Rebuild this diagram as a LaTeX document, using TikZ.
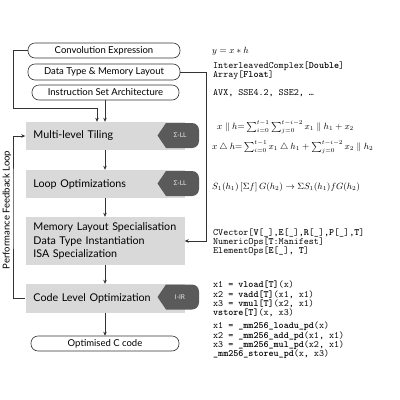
\documentclass[tikz,border=0pt]{standalone}
\usepackage{fontspec}
\usetikzlibrary{arrows.meta}
\newfontfamily\gill{Lato}
\setmonofont{lmmono10-regular.otf}[BoldFont=lmmonolt10-bold.otf]
\definecolor{boxgray}{HTML}{D9D9D9}
\definecolor{taggray}{HTML}{5A5A5A}
\definecolor{linegray}{HTML}{333333}
\newcommand\mb[1]{\textbf{#1}}
\newcommand\tagshape[1]{%
  \fill[taggray] (157.5,#1) -- (166,#1-12.5) [rounded corners=7pt] -- (199,#1-12.5) -- (199,#1+12.5) [sharp corners] -- (166,#1+12.5) -- cycle;}
\begin{document}
\begin{tikzpicture}[x=1pt,y=-1pt,
  stadium/.style={draw=linegray, line width=0.6pt, rounded corners=7pt, fill=white,
    font=\gill\fontsize{9.5}{11}\selectfont, inner sep=0pt},
  graybox/.style={fill=boxgray, minimum width=159pt, text width=143pt, inner xsep=8pt,
    inner ysep=0pt, align=left, font=\gill\fontsize{10.7}{13.6}\selectfont},
  taglabel/.style={text=white!92!black, font=\gill\fontsize{6.5}{7}\selectfont, inner sep=0pt},
  code/.style={anchor=west, align=left, inner sep=0pt, font=\ttfamily\fontsize{9.6}{9.2}\selectfont},
  mathtxt/.style={anchor=west, inner sep=0pt, font=\fontsize{9}{11}\selectfont},
  arr/.style={draw=linegray, line width=0.6pt, -{Stealth[length=4pt,width=3.5pt]}}]
\useasboundingbox (0,0) rectangle (400,400);

% input boxes
\node[stadium, minimum width=152pt, minimum height=15pt] (conv) at (104,50.5) {Convolution Expression};
\node[stadium, minimum width=152pt, minimum height=16pt] (data) at (104,72) {Data Type \& Memory Layout};
\node[stadium, minimum width=147pt, minimum height=15pt] (isa) at (105.5,92.5) {Instruction Set Architecture};

% stage boxes
\node[graybox, minimum height=28pt] (tiling) at (105,136) {Multi-level Tiling};
\node[graybox, minimum height=28pt] (loop) at (105,184) {Loop Optimizations};
\node[graybox, minimum height=48pt] (mem) at (105,241) {Memory Layout Specialisation\\Data Type Instantiation\\ISA Specialization};
\node[graybox, minimum height=29pt] (codeopt) at (105,298.5) {Code Level Optimization};
\node[stadium, minimum width=148pt, minimum height=15pt] (ccode) at (105,343.5) {Optimised C code};

% tags
\tagshape{135.5}
\tagshape{183.5}
\tagshape{297}
\node[taglabel] (tag1) at (180,135.5) {Σ-LL};
\node[taglabel] (tag2) at (180,183.5) {Σ-LL};
\node[taglabel] (tag3) at (180,297) {I-IR};

% feedback label
\node[rotate=90, inner sep=0pt, font=\gill\fontsize{9.5}{11}\selectfont] (fb) at (7,210) {Performance Feedback Loop};

% connectors
\coordinate (j1) at (13,108);
\coordinate (j2) at (206,241);
\coordinate (j3) at (13,200);
\draw[arr] (conv.west) -| (j1) -| ([xshift=-8pt]tiling.north);
\draw[arr] (isa.south -| tiling.north) -- (tiling.north);
\draw[arr] (data.east) -| (j2) -- (mem.east);
\draw[arr] (tiling.south) -- (loop.north);
\draw[arr] (loop.south) -- (mem.north);
\draw[arr] (mem.south) -- (codeopt.north);
\draw[arr] (codeopt.south) -- (ccode.north);
\draw[arr] (codeopt.west) -| (j3) |- (tiling.west);

% right column
\node[mathtxt] (m1) at (212,51) {$y = x * h$};
\node[code] (t1) at (213,71) {InterleavedComplex[\mb{Double}]\\Array[\mb{Float}]};
\node[code] (t2) at (213,93) {AVX, SSE4.2, SSE2, …};
\node[mathtxt] (m2) at (217,127.5) {$x \parallel h{=}\sum_{i=0}^{t-1}\sum_{j=0}^{t-i-2} x_1 \parallel h_1 + x_2$};
\node[mathtxt] (m3) at (212,147.5) {$x \mathbin{\triangle} h{=}\sum_{i=0}^{t-1} x_1 \mathbin{\triangle} h_1 + \sum_{j=0}^{t-i-2} x_2 \parallel h_2$};
\node[mathtxt] (m4) at (212,187) {$S_1(h_1)\,[\Sigma f]\,G(h_2) \rightarrow \Sigma S_1(h_1) f G(h_2)$};
\node[code] (t3) at (213,242) {CVector[\mb{V}[\_],\mb{E}[\_],\mb{R}[\_],\mb{P}[\_],\mb{T}]\\NumericOps[\mb{T}:Manifest]\\ElementOps[\mb{E}[\_], \mb{T}]};
\node[code] (t4) at (213,299) {x1 = \mb{vload[T]}(x)\\x2 = \mb{vadd[T]}(x1, x1)\\x3 = \mb{vmul[T]}(x2, x1)\\\mb{vstore[T]}(x, x3)};
\node[code] (t5) at (213,340.5) {x1 = \mb{\_mm256\_loadu\_pd}(x)\\x2 = \mb{\_mm256\_add\_pd}(x1, x1)\\x3 = \mb{\_mm256\_mul\_pd}(x2, x1)\\\mb{\_mm256\_storeu\_pd}(x, x3)};
\end{tikzpicture}
\end{document}
